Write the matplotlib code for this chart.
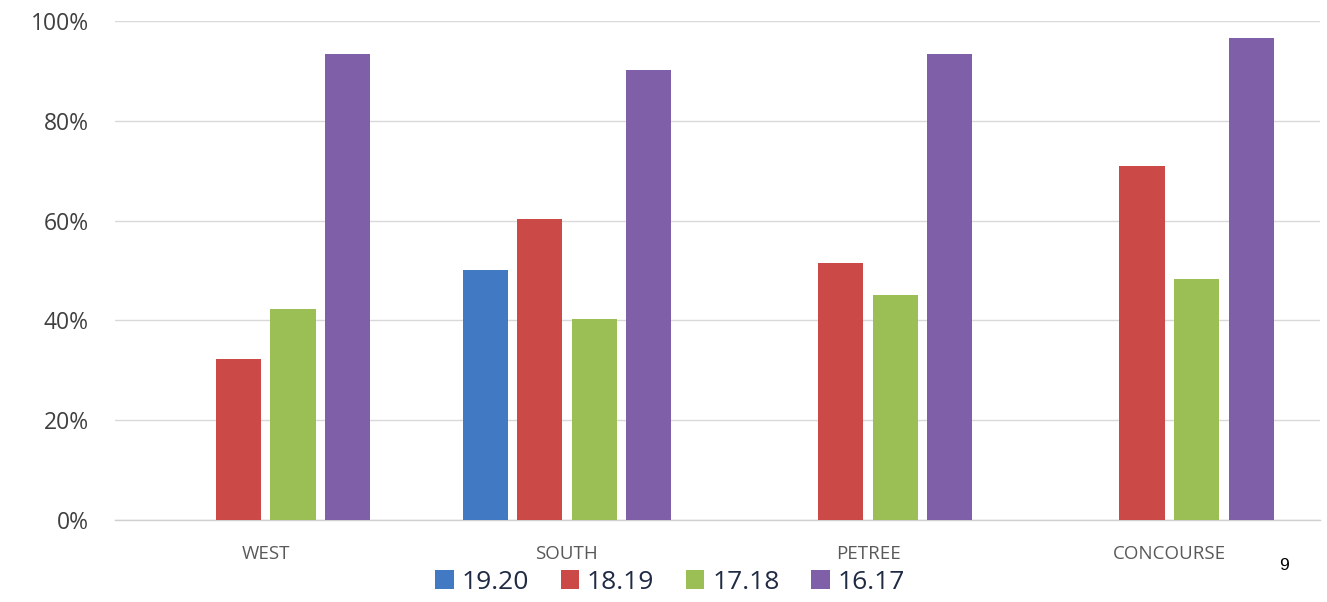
import matplotlib
matplotlib.use("Agg")
import matplotlib.pyplot as plt
import numpy as np

categories = ["WEST", "SOUTH", "PETREE", "CONCOURSE"]
series_names = ["19.20", "18.19", "17.18", "16.17"]
s_1920 = [np.nan, 50.1, np.nan, np.nan]
s_1819 = [32.3, 60.3, 51.5, 70.9]
s_1718 = [42.3, 40.3, 45.1, 48.3]
s_1617 = [93.4, 90.2, 93.4, 96.6]
yticks = [0, 20, 40, 60, 80, 100]
ytick_labels = ["0%", "20%", "40%", "60%", "80%", "100%"]

colors = ["#4179C2", "#CB4A47", "#9BBF55", "#7F5FA8"]
series = [s_1920, s_1819, s_1718, s_1617]

plt.rcParams['font.family'] = ['Open Sans', 'DejaVu Sans']

fig = plt.figure(figsize=(13.27, 6.02), dpi=100)
ax = fig.add_axes([0.0867, 0.1362, 0.9080, 0.8289])

x = np.arange(len(categories))
slot = 0.181
width = 0.15
for i, (name, vals, c) in enumerate(zip(series_names, series, colors)):
    ax.bar(x + (i - 1.5) * slot, vals, width=width, color=c, label=name, zorder=3)

ax.set_xlim(-0.5, 3.5)
ax.set_ylim(0, 100)
ax.set_yticks(yticks)
ax.set_yticklabels(ytick_labels, fontsize=16.5, color="#404040")
ax.set_xticks(x)
ax.set_xticklabels(categories, fontsize=13.5, color="#595959")
ax.tick_params(axis="both", length=0)
ax.tick_params(axis="y", pad=19)
ax.tick_params(axis="x", pad=18)
ax.yaxis.grid(True, color="#D9D9D9", linewidth=1, zorder=0)
for s in ["top", "right", "left"]:
    ax.spines[s].set_visible(False)
ax.spines["bottom"].set_color("#D0D0D0")
ax.spines["bottom"].set_linewidth(1)

leg = fig.legend(loc="center", bbox_to_anchor=(0.505, 0.033), ncol=4, frameon=False,
                 fontsize=19, handlelength=0.7, handleheight=0.7, handletextpad=0.3,
                 columnspacing=1.2)
for t in leg.get_texts():
    t.set_color("#1F2A44")

fig.text(0.9675, 0.060, "9", fontsize=12.5, color="black", family="Liberation Sans",
         ha="center", va="center")

fig.savefig("out.png", dpi=100)
